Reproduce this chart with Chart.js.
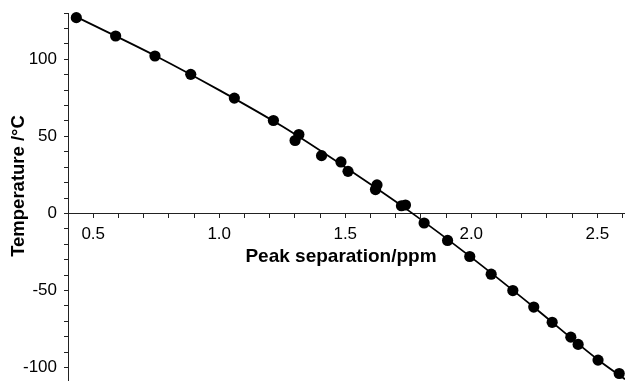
<!DOCTYPE html>
<html>
<head>
<meta charset="utf-8">
<script src="https://cdn.jsdelivr.net/npm/chart.js@4/dist/chart.umd.min.js"></script>
<style>
  html, body { margin: 0; padding: 0; background: #fff; }
  #wrap { width: 625px; height: 382px; position: relative; }
</style>
</head>
<body>
<div id="wrap"><canvas id="chart"></canvas></div>
<script>
// valores
const peakSep = [0.433, 0.589, 0.745, 0.887, 1.060, 1.215, 1.301, 1.316, 1.406, 1.483, 1.511,
  1.620, 1.626, 1.723, 1.739, 1.813, 1.906, 1.994, 2.079, 2.165, 2.248, 2.321, 2.395, 2.424, 2.503, 2.587];
const temps = [127.0, 115.1, 102.1, 90.2, 74.8, 60.3, 47.3, 51.2, 37.5, 33.4, 27.3,
  15.5, 18.5, 5.0, 5.5, -6.2, -17.5, -27.9, -39.4, -50.0, -60.7, -70.6, -80.2, -84.9, -95.1, -103.8];

// curva ajustada (pontos lidos ao longo da linha)
const fitSep = [0.433, 0.75, 1.0, 1.25, 1.5, 1.75, 2.0, 2.25, 2.5, 2.61];
const fitTemp = [127.5, 102, 80, 56.5, 30, 2, -28.5, -61, -94.5, -107.5];

const xLabels = [0.5, 1.0, 1.5, 2.0, 2.5];
const yLabels = [-100, -50, 0, 50, 100];

const xTitle = 'Peak separation/ppm';
const yTitle = 'Temperature /°C';

const fontFamily = '"Liberation Sans", Arial, Helvetica, sans-serif';
const axisColor = '#222';

const near = (a, b) => Math.abs(a - b) < 1e-6;

// mantém só ticks "redondos" dentro do intervalo
const keepTicks = (s, step) => {
  s.ticks = s.ticks.filter(t =>
    t.value >= s.min - 1e-9 && t.value <= s.max + 1e-9 &&
    near(t.value / step, Math.round(t.value / step)));
};

/** Títulos dos eixos desenhados à mão (o do Y não fica centrado) */
const axisTitles = {
  id: 'axisTitles',
  afterDraw(chart) {
    const ctx = chart.ctx;
    ctx.save();
    ctx.fillStyle = '#000';
    ctx.textAlign = 'center';
    ctx.textBaseline = 'middle';
    ctx.font = 'bold 19px ' + fontFamily;
    ctx.fillText(xTitle, 341, 257);
    ctx.translate(19, 186);
    ctx.rotate(-Math.PI / 2);
    ctx.font = 'bold 18.5px ' + fontFamily;
    ctx.fillText(yTitle, 0, 0);
    ctx.restore();
  }
};

new Chart(document.getElementById('chart').getContext('2d'), {
  type: 'scatter',
  data: {
    datasets: [
      {
        label: 'fit',
        data: fitSep.map((x, i) => ({ x, y: fitTemp[i] })),
        showLine: true,
        borderColor: '#000',
        borderWidth: 1.8,
        pointRadius: 0,
        cubicInterpolationMode: 'monotone',
        clip: false
      },
      {
        label: 'data',
        data: peakSep.map((x, i) => ({ x, y: temps[i] })),
        backgroundColor: '#000',
        borderColor: '#000',
        borderWidth: 0,
        pointRadius: 5.6,
        clip: false
      }
    ]
  },
  plugins: [axisTitles],
  options: {
    responsive: true,
    maintainAspectRatio: false,
    animation: false,
    events: [],
    layout: { autoPadding: false, padding: { top: 13, bottom: 2, left: 0, right: 0 } },
    plugins: {
      legend: { display: false },
      tooltip: { enabled: false }
    },
    scales: {
      x: {
        type: 'linear',
        position: { y: 0 },
        min: 0.4, max: 2.61,
        afterBuildTicks: (s) => keepTicks(s, 0.1),
        afterFit: (s) => { s.paddingLeft = 0; s.paddingRight = 0; },
        grid: { drawOnChartArea: false, tickLength: 4, tickColor: axisColor, tickWidth: 1 },
        border: { display: true, color: axisColor, width: 1 },
        ticks: {
          stepSize: 0.1, includeBounds: false, autoSkip: false, maxRotation: 0, padding: 7,
          color: '#000',
          font: { family: fontFamily, size: 17 },
          callback: (v) => xLabels.some(l => near(l, v)) ? v.toFixed(1) : ''
        }
      },
      y: {
        type: 'linear',
        min: -108, max: 130,
        afterBuildTicks: (s) => keepTicks(s, 10),
        afterFit: (s) => { s.width = 68; s.paddingTop = 0; s.paddingBottom = 0; },
        grid: { drawOnChartArea: false, tickLength: 4, tickColor: axisColor, tickWidth: 1 },
        border: { display: true, color: axisColor, width: 1 },
        ticks: {
          stepSize: 10, includeBounds: false, autoSkip: false, padding: 7,
          color: '#000',
          font: { family: fontFamily, size: 17 },
          callback: (v) => yLabels.some(l => near(l, v)) ? String(Math.round(v)) : ''
        }
      }
    }
  }
});
</script>
</body>
</html>
